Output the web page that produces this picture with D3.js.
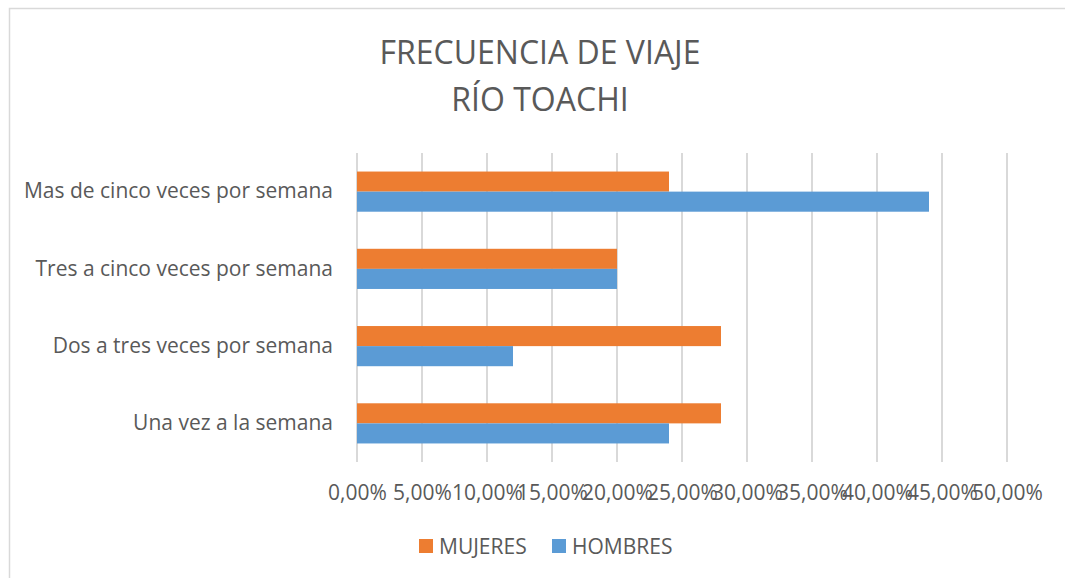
<!DOCTYPE html>
<html>
<head>
<meta charset="utf-8">
<script src="https://cdn.jsdelivr.net/npm/d3@7"></script>
<style>
  body { margin: 0; background: #fff; }
  svg { display: block; font-family: "Open Sans", sans-serif; }
</style>
</head>
<body>
<svg id="chart" width="1065" height="578"></svg>
<script>
const categories = [
  'Mas de cinco veces por semana',
  'Tres a cinco veces por semana',
  'Dos a tres veces por semana',
  'Una vez a la semana'
]
const seriesNames = ['MUJERES', 'HOMBRES']
const mujeres = [0.24, 0.20, 0.28, 0.28]
const hombres = [0.44, 0.20, 0.12, 0.24]
const xTicks = [0, 0.05, 0.10, 0.15, 0.20, 0.25, 0.30, 0.35, 0.40, 0.45, 0.50]
const titleLines = ['FRECUENCIA DE VIAJE', 'RÍO TOACHI']

const COLOR = { MUJERES: '#ED7D31', HOMBRES: '#5B9BD5' }
const TEXT = '#595959'
const GRID = '#d9d9d9'

const plot = { left: 357, right: 1007, top: 153, bottom: 462 }

const locale = d3.formatLocale({ decimal: ',', thousands: '.', grouping: [3], currency: ['', '€'] })
const pct = locale.format('.2%')

const svg = d3.select('#chart')

// chart border (runs off the right and bottom edges)
svg.append('rect')
  .attr('x', 9.5).attr('y', 8.5)
  .attr('width', 1070).attr('height', 580)
  .attr('fill', 'none')
  .attr('stroke', GRID)
  .attr('stroke-width', 1.5)

// title
svg.append('g')
  .selectAll('text')
  .data(titleLines)
  .join('text')
  .attr('x', 540)
  .attr('y', (d, i) => 64 + i * 47)
  .attr('text-anchor', 'middle')
  .attr('fill', TEXT)
  .style('font-size', '32px')
  .text(d => d)

const x = d3.scaleLinear().domain([0, 0.5]).range([plot.left, plot.right])
const y = d3.scaleBand()
  .domain(categories)
  .range([plot.top, plot.bottom])
  .paddingInner(0.48)
  .paddingOuter(0.24)
const ySub = d3.scaleBand().domain(seriesNames).range([0, y.bandwidth()])

// gridlines
svg.append('g')
  .selectAll('line')
  .data(xTicks)
  .join('line')
  .attr('x1', d => x(d)).attr('x2', d => x(d))
  .attr('y1', plot.top).attr('y2', plot.bottom)
  .attr('stroke', GRID)
  .attr('stroke-width', 2)

// bars
const rows = categories.map((c, i) => ({ cat: c, values: [
  { key: 'MUJERES', value: mujeres[i] },
  { key: 'HOMBRES', value: hombres[i] }
] }))

svg.append('g')
  .selectAll('g')
  .data(rows)
  .join('g')
  .attr('transform', d => `translate(0,${y(d.cat)})`)
  .selectAll('rect')
  .data(d => d.values)
  .join('rect')
  .attr('x', x(0))
  .attr('y', d => ySub(d.key))
  .attr('width', d => x(d.value) - x(0))
  .attr('height', ySub.bandwidth())
  .attr('fill', d => COLOR[d.key])

// x axis labels
const gx = svg.append('g')
  .attr('transform', `translate(0,${plot.bottom})`)
  .call(d3.axisBottom(x).tickValues(xTicks).tickFormat(pct).tickSize(0).tickPadding(23))
  .attr('font-family', null)
  .attr('font-size', null)
gx.select('.domain').remove()
gx.selectAll('text')
  .attr('fill', TEXT)
  .style('font-size', '21px')

// y axis labels
const gy = svg.append('g')
  .attr('transform', `translate(${plot.left},0)`)
  .call(d3.axisLeft(y).tickSize(0).tickPadding(24))
  .attr('font-family', null)
  .attr('font-size', null)
gy.select('.domain').remove()
gy.selectAll('text')
  .attr('fill', TEXT)
  .style('font-size', '21px')

// legend
const legendPos = { MUJERES: 419, HOMBRES: 552 }
const legend = svg.append('g')
  .selectAll('g')
  .data(seriesNames)
  .join('g')
  .attr('transform', d => `translate(${legendPos[d]},539)`)
legend.append('rect')
  .attr('width', 14).attr('height', 14)
  .attr('fill', d => COLOR[d])
legend.append('text')
  .attr('x', 20).attr('y', 14.5)
  .attr('fill', TEXT)
  .style('font-size', '21px')
  .text(d => d)
</script>
</body>
</html>
